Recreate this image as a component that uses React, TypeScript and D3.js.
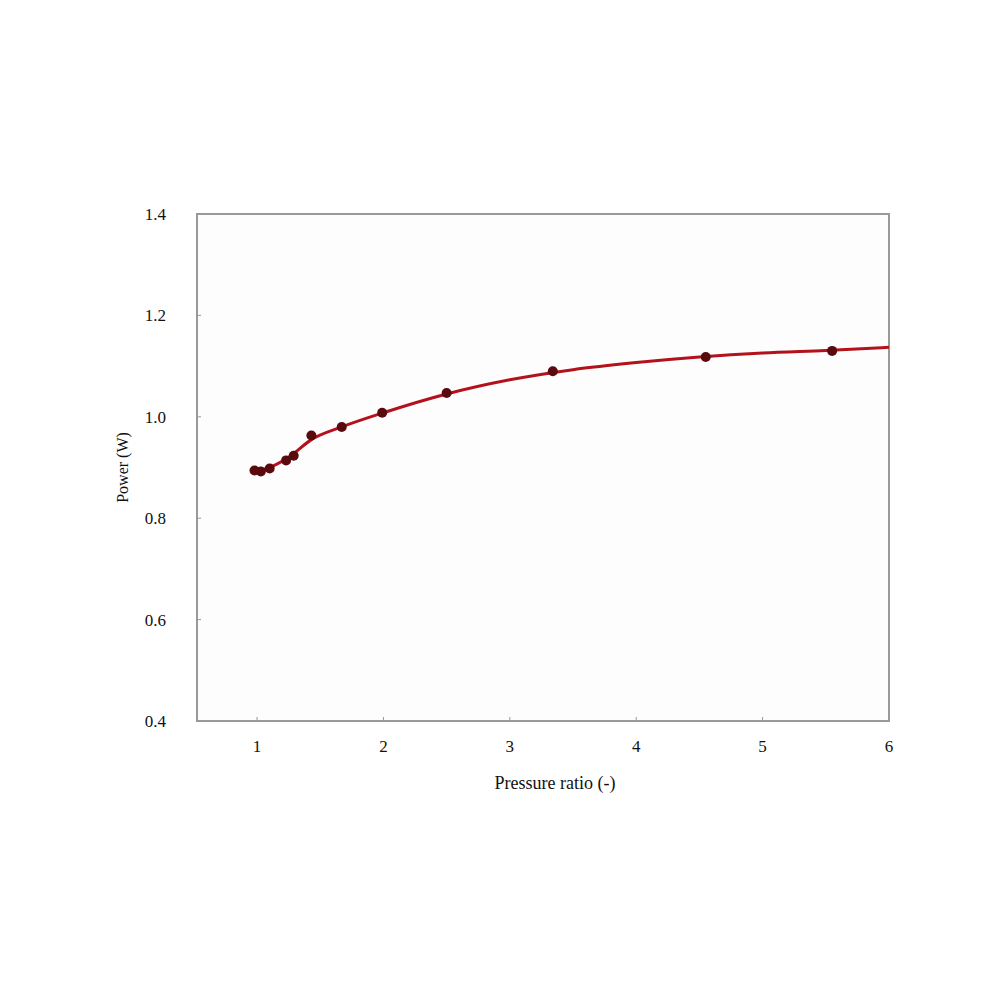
import React from "react";
import * as d3 from "d3";

// measured points
const pointX = [0.98, 1.03, 1.1, 1.23, 1.29, 1.43, 1.67, 1.99, 2.5, 3.34, 4.55, 5.55];
const pointY = [0.894, 0.892, 0.898, 0.914, 0.923, 0.963, 0.98, 1.008, 1.047, 1.09, 1.118, 1.13];

// fitted curve
const fitX = [0.98, 1.1, 1.25, 1.43, 1.67, 2, 2.5, 3, 3.5, 4, 4.5, 5, 5.5, 6];
const fitY = [0.892, 0.9, 0.92, 0.955, 0.98, 1.008, 1.045, 1.073, 1.093, 1.107, 1.118, 1.126, 1.131, 1.137];

const xTicks = [1, 2, 3, 4, 5, 6];
const yTicks = [1.4, 1.2, 1.0, 0.8, 0.6, 0.4];

const width = 1000;
const height = 1000;
const left = 197;
const right = 889;
const top = 214;
const bottom = 721;

const App = () => {
    const x = d3.scaleLinear([0.525, 6], [left, right]);
    const y = d3.scaleLinear([0.4, 1.4], [bottom, top]);

    const fit = fitX.map((d, i) => [d, fitY[i]] as [number, number]);
    const line = d3
        .line<[number, number]>()
        .x((d) => x(d[0]))
        .y((d) => y(d[1]))
        .curve(d3.curveMonotoneX);

    return (
        <svg
            width={width}
            height={height}
            style={{ position: "absolute", top: 0, left: 0, background: "#fff" }}
            fontFamily="Liberation Serif"
        >
            <rect
                x={left}
                y={top}
                width={right - left}
                height={bottom - top}
                fill="#fdfdfd"
                stroke="#999"
                strokeWidth={2}
            />
            {yTicks.map((d, i) => (
                <g key={`y${i}`}>
                    <line x1={left} x2={left + 4} y1={y(d)} y2={y(d)} stroke="#999" />
                    <text
                        x={166}
                        y={y(d)}
                        dy="0.35em"
                        textAnchor="end"
                        fontSize={17}
                        fill="#111"
                    >
                        {d.toFixed(1)}
                    </text>
                </g>
            ))}
            {xTicks.map((d, i) => (
                <g key={`x${i}`}>
                    <line x1={x(d)} x2={x(d)} y1={bottom} y2={bottom - 4} stroke="#999" />
                    <text
                        x={x(d)}
                        y={752}
                        textAnchor="middle"
                        fontSize={17}
                        fill="#111"
                    >
                        {d}
                    </text>
                </g>
            ))}
            <path d={line(fit) || ""} fill="none" stroke="#b3121c" strokeWidth={3} />
            {pointX.map((d, i) => (
                <circle key={`p${i}`} cx={x(d)} cy={y(pointY[i])} r={5} fill="#5a0a0e" />
            ))}
            <text x={555} y={789} textAnchor="middle" fontSize={18} fill="#111">
                Pressure ratio (-)
            </text>
            <text
                transform={`translate(128,${(top + bottom) / 2}) rotate(-90)`}
                textAnchor="middle"
                fontSize={16}
                fill="#111"
            >
                Power (W)
            </text>
        </svg>
    );
};

export default App;
